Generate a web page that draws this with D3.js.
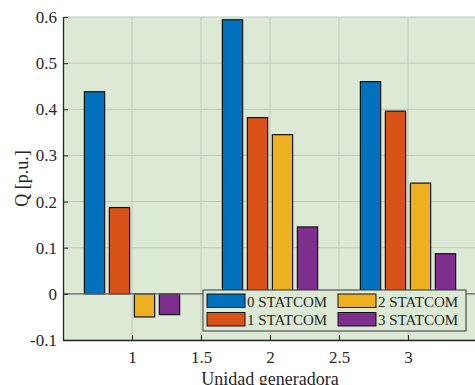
<!DOCTYPE html>
<html>
<head>
<meta charset="utf-8">
<script src="https://cdn.jsdelivr.net/npm/d3@7"></script>
<style>
  body { margin: 0; background: #fff; }
</style>
</head>
<body>
<div id="chart"></div>
<script>
// data
var groups = [1, 2, 3];
var seriesNames = ["0 STATCOM", "1 STATCOM", "2 STATCOM", "3 STATCOM"];
var seriesColors = ["#0072BD", "#D95319", "#EDB120", "#7E2F8E"];
var values = [
  [0.438, 0.594, 0.460],   // 0 STATCOM
  [0.187, 0.382, 0.396],   // 1 STATCOM
  [-0.050, 0.345, 0.240],  // 2 STATCOM
  [-0.045, 0.145, 0.087]   // 3 STATCOM
];
var xTicks = [1, 1.5, 2, 2.5, 3];
var yTicks = [-0.1, 0, 0.1, 0.2, 0.3, 0.4, 0.5, 0.6];
var yTickLabels = ["-0.1", "0", "0.1", "0.2", "0.3", "0.4", "0.5", "0.6"];
var xTickLabels = ["1", "1.5", "2", "2.5", "3"];

var FONT = "'Liberation Serif', 'Times New Roman', serif";
var W = 475, H = 385;
var margin = {top: 17, right: -2, bottom: 45, left: 63};
var width = W - margin.left - margin.right;
var height = H - margin.top - margin.bottom;

var svg = d3.select("#chart").append("svg")
    .attr("width", W)
    .attr("height", H)
  .append("g")
    .attr("transform", "translate(" + margin.left + "," + margin.top + ")");

var x = d3.scaleLinear().domain([0.5, 3.5]).range([0, width]);
var y = d3.scaleLinear().domain([-0.1, 0.6]).range([height, 0]);

// background
svg.append("rect")
  .attr("width", width)
  .attr("height", height)
  .attr("fill", "#dceAd5");

// grid
svg.append("g").selectAll("line")
  .data(xTicks).enter().append("line")
    .attr("x1", d => x(d)).attr("x2", d => x(d))
    .attr("y1", 0).attr("y2", height)
    .attr("stroke", "#bfcbbb").attr("stroke-width", 1);
svg.append("g").selectAll("line")
  .data(yTicks).enter().append("line")
    .attr("x1", 0).attr("x2", width)
    .attr("y1", d => y(d)).attr("y2", d => y(d))
    .attr("stroke", "#bfcbbb").attr("stroke-width", 1);

// bars
var barW = 0.147, offsets = [-0.2717, -0.0906, 0.0906, 0.2717];
seriesNames.forEach(function(name, s) {
  svg.append("g").selectAll("rect")
    .data(values[s]).enter().append("rect")
      .attr("x", (d, i) => x(groups[i] + offsets[s] - barW / 2))
      .attr("width", x(barW) - x(0))
      .attr("y", d => y(Math.max(d, 0)))
      .attr("height", d => Math.abs(y(d) - y(0)))
      .attr("fill", seriesColors[s])
      .attr("stroke", "#111")
      .attr("stroke-width", 1.2);
});

// baseline
svg.append("line")
  .attr("x1", 0).attr("x2", width)
  .attr("y1", y(0)).attr("y2", y(0))
  .attr("stroke", "#666").attr("stroke-width", 1.2);

// axes (ticks inward, like matlab)
var yAxis = svg.append("g")
  .call(d3.axisLeft(y).tickValues(yTicks).tickSizeInner(-5).tickSizeOuter(0).tickPadding(6)
    .tickFormat((d, i) => yTickLabels[i]));
var xAxis = svg.append("g")
  .attr("transform", "translate(0," + height + ")")
  .call(d3.axisBottom(x).tickValues(xTicks).tickSizeInner(-5).tickSizeOuter(0).tickPadding(11)
    .tickFormat((d, i) => xTickLabels[i]));
[yAxis, xAxis].forEach(function(a) {
  a.attr("font-family", null).attr("font-size", null);
  a.select(".domain").attr("stroke", "#262626").attr("stroke-width", 1.3);
  a.selectAll(".tick line").attr("stroke", "#262626");
  a.selectAll("text")
    .style("font-family", FONT)
    .style("font-size", "17px")
    .attr("fill", "#262626");
});

// axis labels
svg.append("text")
  .attr("transform", "translate(" + (-35) + "," + y(0.25) + ") rotate(-90)")
  .attr("text-anchor", "middle")
  .style("font-family", FONT)
  .style("font-size", "18px")
  .attr("fill", "#262626")
  .text("Q [p.u.]");
svg.append("text")
  .attr("x", x(2))
  .attr("y", height + 45)
  .attr("text-anchor", "middle")
  .style("font-family", FONT)
  .style("font-size", "18px")
  .attr("fill", "#262626")
  .text("Unidad generadora");

// legend, 2 columns
var leg = svg.append("g").attr("transform", "translate(" + (203 - margin.left) + "," + (290 - margin.top) + ")");
leg.append("rect")
  .attr("width", 263).attr("height", 41)
  .attr("fill", "#dceAd5")
  .attr("stroke", "#333").attr("stroke-width", 1);
seriesNames.forEach(function(name, s) {
  var col = Math.floor(s / 2), row = s % 2;
  var g = leg.append("g").attr("transform", "translate(" + (4 + col * 131) + "," + (4 + row * 18.5) + ")");
  g.append("rect")
    .attr("width", 38).attr("height", 13.5)
    .attr("fill", seriesColors[s])
    .attr("stroke", "#111").attr("stroke-width", 1);
  g.append("text")
    .attr("x", 40).attr("y", 12.5)
    .style("font-family", FONT)
    .style("font-size", "15px")
    .attr("fill", "#262626")
    .text(name);
});
</script>
</body>
</html>
